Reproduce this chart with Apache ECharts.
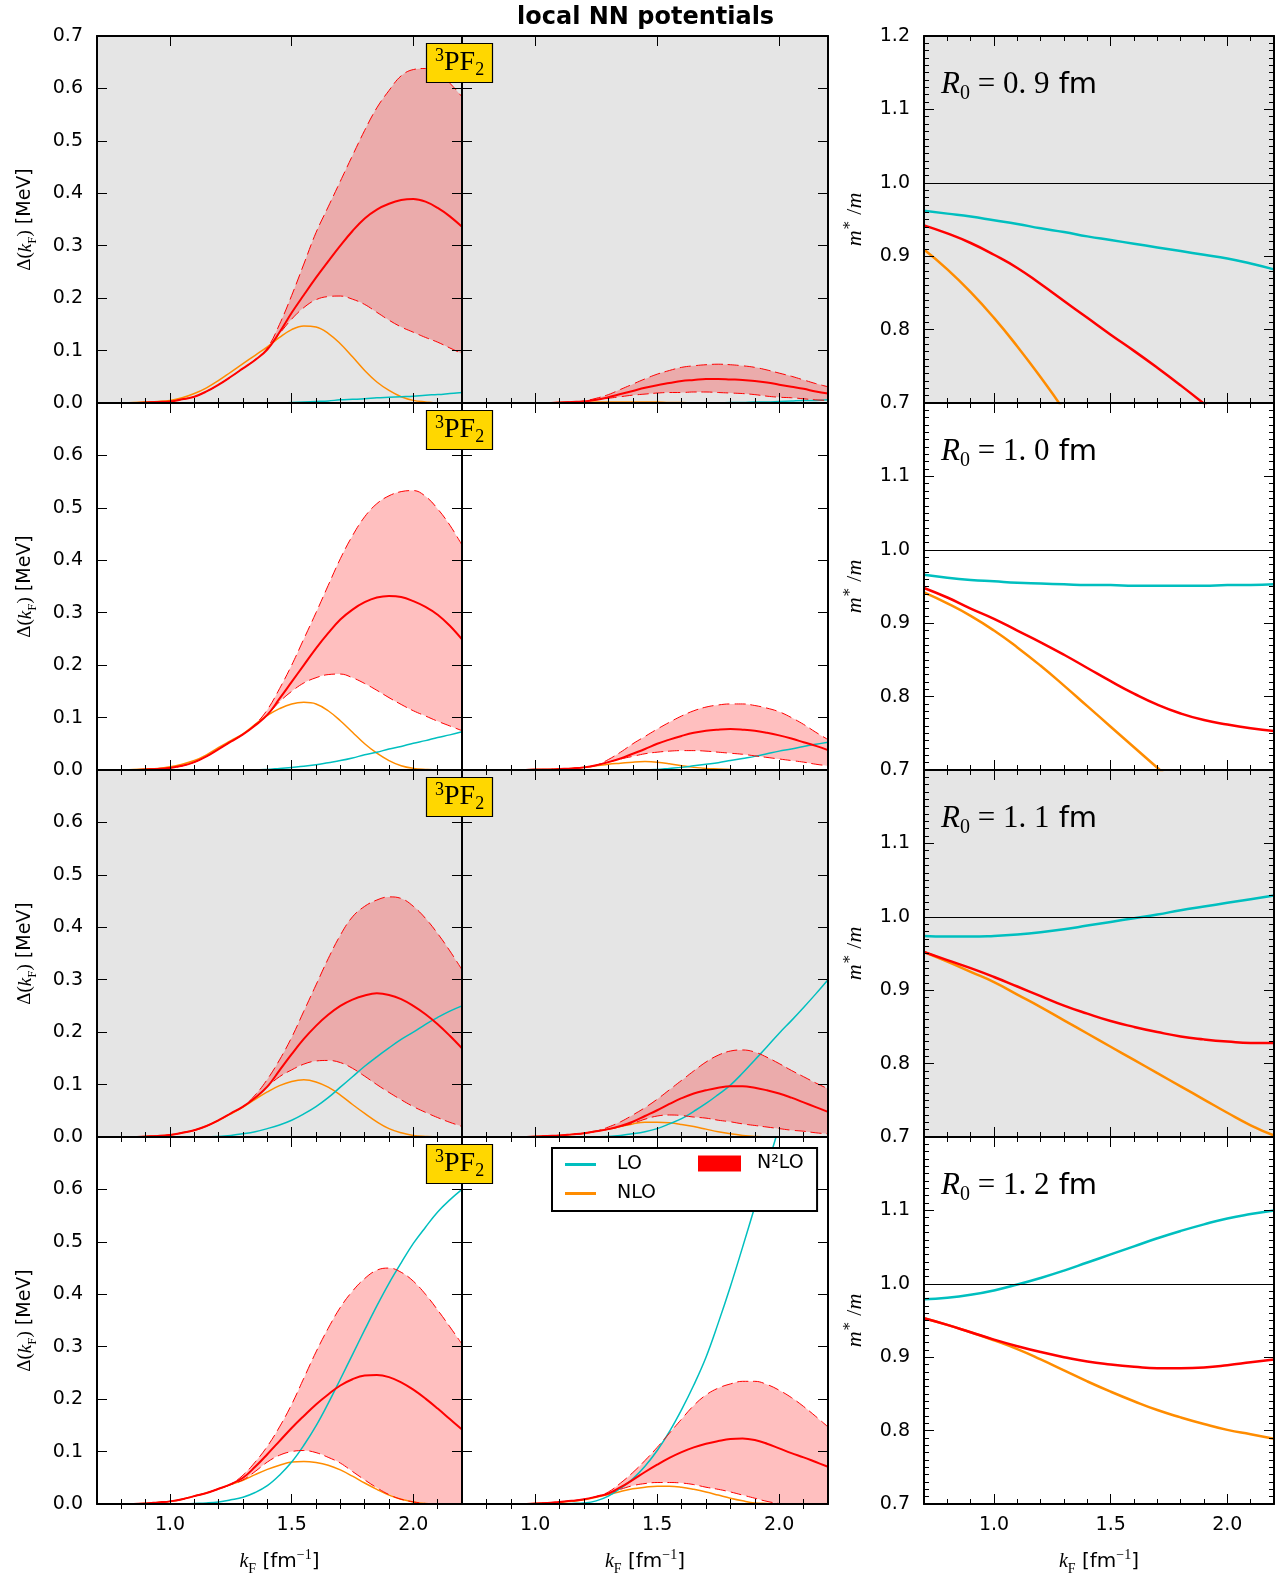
<!DOCTYPE html>
<html><head><meta charset="utf-8">
<script src="https://cdn.jsdelivr.net/npm/echarts@6/dist/echarts.min.js"></script>
<style>html,body{margin:0;padding:0;background:#fff}#c{width:1283px;height:1578px}</style>
</head><body><div id="c"></div>
<script>
// ---------------- data ----------------
const kFgap  = [0.7,0.75,0.8,0.85,0.9,0.95,1.0,1.05,1.1,1.15,1.2,1.25,1.3,1.35,1.4,1.45,1.5,1.55,1.6,1.65,1.7,1.75,1.8,1.85,1.9,1.95,2.0,2.05,2.1,2.15,2.2];
const kFmass = [0.7,0.8,0.9,1.0,1.1,1.2,1.3,1.4,1.5,1.6,1.7,1.8,1.9,2.0,2.1,2.2];
const xTickMajor = [1.0,1.5,2.0];
const xTickMinor = [0.8,0.9,1.1,1.2,1.3,1.4,1.6,1.7,1.8,1.9,2.1];
const radiusLabels = ['0.9','1.0','1.1','1.2'];
const unityLine = 1.0;

// pairing gap Δ(kF) [MeV] -- R0 = 0.9 fm, left panel
const g09L_LO   = [0,0,0,0,0,0,0,0,0,0,0,0,0,0,0,0,0.001,0.002,0.003,0.004,0.006,0.007,0.008,0.01,0.011,0.012,0.013,0.015,0.016,0.018,0.02];
const g09L_NLO  = [0,0,0,0.001,0.002,0.003,0.005,0.01,0.018,0.029,0.043,0.059,0.075,0.091,0.107,0.125,0.14,0.147,0.145,0.133,0.113,0.088,0.062,0.04,0.024,0.012,0.005,0.002,0,0,0];
const g09L_N2LO = [0,0,0,0,0.001,0.002,0.003,0.007,0.012,0.022,0.035,0.05,0.066,0.082,0.102,0.135,0.172,0.206,0.239,0.27,0.3,0.328,0.352,0.369,0.38,0.387,0.389,0.384,0.372,0.356,0.336];
const g09L_lo   = [0,0,0,0,0.001,0.002,0.003,0.007,0.012,0.022,0.035,0.05,0.066,0.082,0.102,0.132,0.16,0.182,0.197,0.203,0.204,0.198,0.188,0.173,0.158,0.145,0.135,0.125,0.116,0.105,0.094];
const g09L_hi   = [0,0,0,0,0.001,0.002,0.003,0.007,0.012,0.022,0.035,0.05,0.066,0.083,0.105,0.15,0.205,0.265,0.325,0.374,0.423,0.472,0.52,0.563,0.596,0.624,0.636,0.638,0.63,0.61,0.584];
// R0 = 0.9 fm, middle panel
const g09M_LO   = [0,0,0,0,0,0,0,0,0,0,0,0,0,0,0,0,0,0,0,0,0,0,0.001,0.001,0.002,0.002,0.003,0.004,0.005,0.005,0.006];
const g09M_NLO  = [0,0,0,0,0,0,0,0,0.001,0.001,0.001,0.002,0.002,0.002,0.002,0.002,0.002,0.001,0.001,0,0,0,0,0,0,0,0,0,0,0,0];
const g09M_N2LO = [0,0,0,0,0,0,0,0,0.001,0.002,0.003,0.006,0.011,0.017,0.023,0.029,0.034,0.038,0.042,0.044,0.046,0.046,0.045,0.044,0.042,0.039,0.035,0.031,0.027,0.022,0.018];
const g09M_lo   = [0,0,0,0,0,0,0,0,0.001,0.002,0.003,0.006,0.009,0.012,0.015,0.017,0.019,0.02,0.02,0.021,0.021,0.02,0.019,0.018,0.016,0.013,0.011,0.01,0.008,0.006,0.005];
const g09M_hi   = [0,0,0,0,0,0,0,0,0.001,0.002,0.004,0.009,0.016,0.026,0.036,0.046,0.055,0.062,0.068,0.071,0.073,0.074,0.073,0.071,0.068,0.063,0.057,0.051,0.044,0.037,0.031];
// R0 = 1.0 fm
const g10L_LO   = [0,0,0,0,0,0,0,0,0,0,0,0,0,0,0.001,0.003,0.005,0.007,0.01,0.014,0.018,0.023,0.029,0.034,0.04,0.045,0.051,0.056,0.062,0.067,0.073];
const g10L_NLO  = [0,0,0,0.001,0.002,0.003,0.006,0.011,0.018,0.029,0.043,0.056,0.069,0.087,0.104,0.117,0.126,0.129,0.126,0.113,0.094,0.072,0.05,0.032,0.018,0.008,0.003,0.001,0,0,0];
const g10L_N2LO = [0,0,0,0,0.001,0.002,0.004,0.008,0.015,0.026,0.04,0.054,0.068,0.085,0.105,0.136,0.168,0.2,0.232,0.261,0.287,0.306,0.32,0.329,0.332,0.33,0.322,0.311,0.296,0.275,0.249];
const g10L_lo   = [0,0,0,0,0.001,0.002,0.004,0.008,0.015,0.026,0.04,0.054,0.068,0.085,0.105,0.13,0.15,0.166,0.176,0.182,0.183,0.176,0.165,0.152,0.138,0.125,0.113,0.103,0.093,0.084,0.075];
const g10L_hi   = [0,0,0,0,0.001,0.002,0.004,0.008,0.015,0.026,0.04,0.054,0.068,0.087,0.115,0.155,0.2,0.25,0.3,0.352,0.403,0.447,0.483,0.508,0.523,0.531,0.533,0.522,0.498,0.467,0.429];
const g10M_LO   = [0,0,0,0,0,0,0,0,0,0,0,0,0,0,0,0,0.001,0.003,0.005,0.008,0.011,0.014,0.018,0.022,0.026,0.031,0.036,0.04,0.045,0.049,0.053];
const g10M_NLO  = [0,0,0,0,0,0,0.001,0.001,0.002,0.003,0.005,0.008,0.011,0.013,0.015,0.016,0.015,0.012,0.008,0.005,0.003,0.002,0.001,0,0,0,0,0,0,0,0];
const g10M_N2LO = [0,0,0,0,0,0,0.001,0.001,0.002,0.003,0.005,0.009,0.015,0.022,0.031,0.04,0.05,0.058,0.065,0.071,0.075,0.077,0.078,0.077,0.075,0.071,0.066,0.06,0.053,0.046,0.038];
const g10M_lo   = [0,0,0,0,0,0,0.001,0.001,0.002,0.003,0.005,0.009,0.015,0.021,0.026,0.031,0.034,0.036,0.037,0.037,0.036,0.034,0.032,0.03,0.027,0.024,0.021,0.018,0.015,0.011,0.008];
const g10M_hi   = [0,0,0,0,0,0,0.001,0.001,0.002,0.003,0.005,0.009,0.02,0.034,0.05,0.064,0.078,0.091,0.103,0.113,0.12,0.124,0.126,0.126,0.123,0.118,0.111,0.1,0.087,0.072,0.058];
// R0 = 1.1 fm
const g11L_LO   = [0,0,0,0,0,0,0,0,0,0,0.001,0.003,0.006,0.01,0.016,0.023,0.032,0.044,0.058,0.075,0.095,0.115,0.135,0.153,0.17,0.186,0.2,0.215,0.228,0.24,0.25];
const g11L_NLO  = [0,0,0,0,0.001,0.002,0.004,0.008,0.013,0.021,0.032,0.044,0.057,0.072,0.086,0.098,0.106,0.109,0.105,0.095,0.08,0.062,0.045,0.029,0.016,0.008,0.003,0.001,0,0,0];
const g11L_N2LO = [0,0,0,0,0.001,0.002,0.004,0.008,0.013,0.021,0.032,0.045,0.058,0.075,0.096,0.127,0.158,0.187,0.212,0.233,0.25,0.262,0.27,0.274,0.271,0.263,0.25,0.234,0.215,0.193,0.169];
const g11L_lo   = [0,0,0,0,0.001,0.002,0.004,0.008,0.013,0.021,0.032,0.045,0.058,0.075,0.096,0.115,0.128,0.139,0.145,0.146,0.142,0.131,0.116,0.1,0.085,0.071,0.058,0.047,0.037,0.028,0.02];
const g11L_hi   = [0,0,0,0,0.001,0.002,0.004,0.008,0.013,0.021,0.032,0.045,0.058,0.08,0.11,0.147,0.19,0.24,0.29,0.34,0.385,0.42,0.44,0.452,0.458,0.455,0.44,0.417,0.388,0.355,0.319];
const g11M_LO   = [0,0,0,0,0,0,0,0,0,0,0,0,0.001,0.003,0.006,0.01,0.016,0.025,0.035,0.049,0.064,0.081,0.099,0.122,0.147,0.172,0.198,0.222,0.247,0.273,0.3];
const g11M_NLO  = [0,0,0,0,0,0,0.001,0.002,0.003,0.005,0.007,0.011,0.015,0.02,0.025,0.028,0.028,0.027,0.024,0.02,0.015,0.01,0.006,0.003,0.001,0,0,0,0,0,0];
const g11M_N2LO = [0,0,0,0,0,0,0.001,0.002,0.003,0.005,0.007,0.011,0.015,0.021,0.029,0.04,0.051,0.063,0.074,0.083,0.089,0.094,0.097,0.097,0.094,0.089,0.083,0.075,0.066,0.057,0.048];
const g11M_lo   = [0,0,0,0,0,0,0.001,0.002,0.003,0.005,0.007,0.011,0.015,0.02,0.026,0.034,0.04,0.042,0.041,0.038,0.036,0.032,0.029,0.025,0.022,0.019,0.016,0.013,0.011,0.008,0.006];
const g11M_hi   = [0,0,0,0,0,0,0.001,0.002,0.003,0.005,0.007,0.011,0.019,0.029,0.042,0.056,0.072,0.09,0.108,0.126,0.143,0.156,0.164,0.166,0.162,0.152,0.14,0.127,0.115,0.103,0.092];
// R0 = 1.2 fm
const g12L_LO   = [0,0,0,0,0,0,0,0,0.001,0.002,0.004,0.008,0.013,0.022,0.035,0.055,0.08,0.112,0.149,0.192,0.238,0.285,0.332,0.378,0.421,0.46,0.497,0.528,0.557,0.58,0.6];
const g12L_NLO  = [0,0,0,0,0.001,0.003,0.005,0.009,0.015,0.021,0.029,0.037,0.045,0.056,0.066,0.074,0.08,0.081,0.079,0.074,0.065,0.053,0.04,0.028,0.017,0.009,0.004,0.001,0,0,0];
const g12L_N2LO = [0,0,0,0,0.001,0.003,0.005,0.009,0.015,0.021,0.029,0.038,0.05,0.071,0.095,0.12,0.145,0.168,0.19,0.209,0.226,0.238,0.245,0.246,0.242,0.232,0.218,0.201,0.182,0.162,0.142];
const g12L_lo   = [0,0,0,0,0.001,0.003,0.005,0.009,0.015,0.021,0.029,0.037,0.046,0.062,0.08,0.093,0.1,0.102,0.098,0.089,0.078,0.062,0.046,0.031,0.018,0.009,0.004,0.001,0,0,0];
const g12L_hi   = [0,0,0,0,0.001,0.003,0.005,0.009,0.015,0.021,0.029,0.038,0.055,0.08,0.11,0.147,0.19,0.24,0.29,0.335,0.375,0.406,0.43,0.446,0.45,0.442,0.425,0.4,0.37,0.338,0.305];
const g12M_LO   = [0,0,0,0,0,0,0,0,0,0.001,0.002,0.006,0.015,0.03,0.048,0.072,0.102,0.138,0.18,0.227,0.28,0.345,0.415,0.49,0.567,0.643,0.72,0.797,0.874,0.95,1.03];
const g12M_NLO  = [0,0,0,0,0,0,0.001,0.002,0.003,0.005,0.008,0.013,0.018,0.024,0.029,0.032,0.034,0.034,0.032,0.028,0.023,0.017,0.011,0.006,0.002,0.001,0,0,0,0,0];
const g12M_N2LO = [0,0,0,0,0,0,0.001,0.002,0.004,0.006,0.009,0.014,0.02,0.032,0.046,0.061,0.075,0.088,0.099,0.108,0.115,0.12,0.124,0.125,0.122,0.115,0.106,0.097,0.089,0.08,0.071];
const g12M_lo   = [0,0,0,0,0,0,0.001,0.002,0.004,0.006,0.009,0.014,0.02,0.028,0.035,0.039,0.041,0.041,0.04,0.037,0.032,0.028,0.023,0.017,0.011,0.005,0.001,0,0,0,0];
const g12M_hi   = [0,0,0,0,0,0,0.001,0.002,0.004,0.006,0.009,0.014,0.023,0.04,0.06,0.083,0.108,0.135,0.162,0.188,0.208,0.221,0.229,0.234,0.234,0.228,0.217,0.203,0.186,0.167,0.147];

// effective mass m*/m
const m09_LO   = [0.962,0.958,0.954,0.949,0.944,0.938,0.933,0.927,0.922,0.917,0.912,0.907,0.902,0.897,0.89,0.882];
const m09_NLO  = [0.909,0.882,0.851,0.816,0.777,0.735,0.69,0.64,null,null,null,null,null,null,null,null];
const m09_N2LO = [0.942,0.931,0.918,0.902,0.884,0.862,0.839,0.816,0.793,0.771,0.748,0.724,0.699,0.673,null,null];
const m10_LO   = [0.966,0.962,0.959,0.957,0.955,0.954,0.953,0.952,0.952,0.951,0.951,0.951,0.951,0.952,0.952,0.953];
const m10_NLO  = [0.942,0.927,0.91,0.89,0.867,0.842,0.815,0.787,0.759,0.731,0.703,0.675,null,null,null,null];
const m10_N2LO = [0.948,0.935,0.92,0.906,0.89,0.874,0.857,0.839,0.821,0.804,0.789,0.777,0.768,0.762,0.757,0.753];
const m11_LO   = [0.974,0.973,0.973,0.974,0.976,0.979,0.983,0.988,0.993,0.998,1.003,1.009,1.014,1.019,1.024,1.029];
const m11_NLO  = [0.952,0.939,0.925,0.911,0.894,0.877,0.859,0.841,0.823,0.805,0.787,0.769,0.751,0.733,0.716,0.702];
const m11_N2LO = [0.952,0.941,0.93,0.918,0.905,0.892,0.879,0.868,0.858,0.85,0.843,0.837,0.833,0.83,0.828,0.828];
const m12_LO   = [0.979,0.981,0.985,0.991,0.999,1.008,1.018,1.029,1.04,1.051,1.062,1.072,1.081,1.089,1.095,1.1];
const m12_NLO  = [0.953,0.944,0.934,0.923,0.911,0.897,0.882,0.867,0.853,0.84,0.828,0.818,0.809,0.801,0.795,0.789];
const m12_N2LO = [0.953,0.944,0.934,0.924,0.915,0.907,0.9,0.894,0.89,0.887,0.885,0.885,0.886,0.889,0.893,0.897];

const gapRows = [
  [{LO:g09L_LO,NLO:g09L_NLO,N2LO:g09L_N2LO,lo:g09L_lo,hi:g09L_hi},{LO:g09M_LO,NLO:g09M_NLO,N2LO:g09M_N2LO,lo:g09M_lo,hi:g09M_hi}],
  [{LO:g10L_LO,NLO:g10L_NLO,N2LO:g10L_N2LO,lo:g10L_lo,hi:g10L_hi},{LO:g10M_LO,NLO:g10M_NLO,N2LO:g10M_N2LO,lo:g10M_lo,hi:g10M_hi}],
  [{LO:g11L_LO,NLO:g11L_NLO,N2LO:g11L_N2LO,lo:g11L_lo,hi:g11L_hi},{LO:g11M_LO,NLO:g11M_NLO,N2LO:g11M_N2LO,lo:g11M_lo,hi:g11M_hi}],
  [{LO:g12L_LO,NLO:g12L_NLO,N2LO:g12L_N2LO,lo:g12L_lo,hi:g12L_hi},{LO:g12M_LO,NLO:g12M_NLO,N2LO:g12M_N2LO,lo:g12M_lo,hi:g12M_hi}]
];
const massRows = [
  {LO:m09_LO,NLO:m09_NLO,N2LO:m09_N2LO},
  {LO:m10_LO,NLO:m10_NLO,N2LO:m10_N2LO},
  {LO:m11_LO,NLO:m11_NLO,N2LO:m11_N2LO},
  {LO:m12_LO,NLO:m12_NLO,N2LO:m12_N2LO}
];

// ---------------- layout / style ----------------
const C_LO = '#00BFBF', C_NLO = '#FF8C00', C_N2 = '#FF0000';
const sans = "'DejaVu Sans', sans-serif";
const serif = "'Liberation Serif', 'DejaVu Serif', serif";
const colL = [97, 462, 924], colW = [365, 366, 350];
const rowT = [36, 403, 770, 1137], rowH = 367;
const bgGray = '#e5e5e5', bgWhite = '#ffffff';

function mathRich(size) {
  const lh = size + 8;
  const b = {color: '#000', fontWeight: 'normal'};
  return {
    s:   Object.assign({fontFamily: serif, fontSize: size, lineHeight: lh}, b),
    i:   Object.assign({fontFamily: serif, fontStyle: 'italic', fontSize: size, lineHeight: lh}, b),
    sub: Object.assign({fontFamily: serif, fontSize: Math.round(size*0.7), lineHeight: Math.round(size*0.55), verticalAlign: 'bottom'}, b),
    sup: Object.assign({fontFamily: serif, fontSize: Math.round(size*0.7), lineHeight: Math.round(size*0.55), verticalAlign: 'top'}, b),
    t:   Object.assign({fontFamily: sans, fontSize: size, lineHeight: lh}, b)
  };
}
const ptsG = arr => kFgap.map((x, i) => [x, arr[i]]);
const ptsM = arr => kFmass.map((x, i) => [x, arr[i]]);
const black = {color: '#000', width: 1};

const grids = [], xAxes = [], yAxes = [], series = [], titles = [];
titles.push({text: 'local NN potentials', left: 512, top: 1,
  textStyle: {fontFamily: sans, fontWeight: 'bold', fontSize: 24, color: '#000'}});

for (let r = 0; r < 4; r++) {
  const bg = (r % 2 === 0) ? bgGray : bgWhite;
  for (let c = 0; c < 3; c++) {
    const gi = grids.length;
    const isGap = c < 2, isBottom = r === 3;
    grids.push({left: colL[c], top: rowT[r], width: colW[c], height: rowH, show: true,
      backgroundColor: bg, borderWidth: 0});
    const xb = {type: 'value', gridIndex: gi, min: 0.7, max: 2.2, splitLine: {show: false}, z: 5};
    const xi = xAxes.length;
    xAxes.push(Object.assign({}, xb, {position: 'bottom',
      axisLine: {show: true, onZero: false, lineStyle: {color: '#000', width: 2}},
      axisTick: {show: true, inside: true, length: 10, customValues: xTickMajor, lineStyle: black},
      axisLabel: {show: isBottom, customValues: xTickMajor, formatter: v => v.toFixed(1),
        color: '#000', fontSize: 19, fontFamily: sans, margin: 12},
      name: isBottom ? '{i|k}{sub|F}{t| [fm}{sup|−1}{t|]}' : '',
      nameLocation: 'middle', nameGap: 44, nameTextStyle: {rich: mathRich(20)}}));
    xAxes.push(Object.assign({}, xb, {position: 'bottom', axisLine: {show: false},
      axisTick: {show: true, inside: true, length: 5, customValues: xTickMinor, lineStyle: black},
      axisLabel: {show: false}}));
    xAxes.push(Object.assign({}, xb, {position: 'top',
      axisLine: {show: true, onZero: false, lineStyle: {color: '#000', width: 2}},
      axisTick: {show: true, inside: true, length: 10, customValues: xTickMajor, lineStyle: black},
      axisLabel: {show: false}}));
    xAxes.push(Object.assign({}, xb, {position: 'top', axisLine: {show: false},
      axisTick: {show: true, inside: true, length: 5, customValues: xTickMinor, lineStyle: black},
      axisLabel: {show: false}}));

    const yb = {type: 'value', gridIndex: gi, min: isGap ? 0 : 0.7, max: isGap ? 0.7 : 1.2, interval: 0.1,
      splitLine: {show: false}, z: 5,
      axisLine: {show: true, onZero: false, lineStyle: {color: '#000', width: 2}},
      axisTick: {show: true, inside: true, length: 10, lineStyle: black},
      minorTick: isGap ? {show: false} : {show: true, splitNumber: 10, length: 5, lineStyle: black}};
    const yi = yAxes.length;
    let yName = '';
    if (c === 0) yName = '{s|Δ(}{i|k}{sub|F}{s|)}{t| [MeV]}';
    if (c === 2) yName = '{i|m}{sup|∗}{s| /}{i|m}';
    yAxes.push(Object.assign({}, yb, {position: 'left',
      axisLabel: {show: c !== 1, formatter: v => v.toFixed(1), showMaxLabel: r === 0, showMinLabel: true,
        color: '#000', fontSize: 19, fontFamily: sans, margin: 14},
      name: yName, nameLocation: 'middle', nameRotate: 90, nameGap: c === 0 ? 58 : 54,
      nameTextStyle: {rich: mathRich(c === 0 ? 19 : 22)}}));
    yAxes.push(Object.assign({}, yb, {position: 'right', axisLabel: {show: false}}));

    const base = {type: 'line', xAxisIndex: xi, yAxisIndex: yi, symbol: 'none', showSymbol: false,
      animation: false, silent: true};
    if (isGap) {
      const d = gapRows[r][c];
      const sm = 0.4;
      // shaded N2LO band: fill under upper bound, then cover below lower bound with panel colour
      series.push(Object.assign({}, base, {name: 'N²LO', data: ptsG(d.hi), smooth: sm,
        itemStyle: {color: C_N2}, lineStyle: {opacity: 0},
        areaStyle: {color: C_N2, opacity: 0.25, origin: 'start'}, z: 1}));
      series.push(Object.assign({}, base, {name: 'band-cover', data: ptsG(d.lo), smooth: sm,
        lineStyle: {opacity: 0}, areaStyle: {color: bg, opacity: 1, origin: 'start'}, z: 1.5}));
      series.push(Object.assign({}, base, {name: 'NLO', data: ptsG(d.NLO), smooth: sm, itemStyle: {color: C_NLO},
        lineStyle: {color: C_NLO, width: 1.5}, z: 2}));
      series.push(Object.assign({}, base, {name: 'LO', data: ptsG(d.LO), smooth: sm, itemStyle: {color: C_LO},
        lineStyle: {color: C_LO, width: 1.5}, z: 2}));
      series.push(Object.assign({}, base, {name: 'N²LO-lo', data: ptsG(d.lo), smooth: sm,
        lineStyle: {color: C_N2, width: 1, type: [11, 5]}, z: 2}));
      series.push(Object.assign({}, base, {name: 'N²LO-hi', data: ptsG(d.hi), smooth: sm,
        lineStyle: {color: C_N2, width: 1, type: [11, 5]}, z: 2}));
      series.push(Object.assign({}, base, {name: 'N²LO-central', data: ptsG(d.N2LO), smooth: sm,
        lineStyle: {color: C_N2, width: 2}, z: 2}));
    } else {
      const d = massRows[r];
      const sm = 0.5;
      series.push(Object.assign({}, base, {name: 'LO', data: ptsM(d.LO), smooth: sm, itemStyle: {color: C_LO},
        lineStyle: {color: C_LO, width: 2.5}, z: 2,
        markLine: {silent: true, symbol: 'none', label: {show: false}, animation: false,
          lineStyle: {color: '#000', width: 1.2, type: 'solid'}, data: [{yAxis: unityLine}]}}));
      series.push(Object.assign({}, base, {name: 'NLO', data: ptsM(d.NLO), smooth: sm, itemStyle: {color: C_NLO},
        lineStyle: {color: C_NLO, width: 2.5}, z: 2}));
      series.push(Object.assign({}, base, {name: 'N²LO-m', data: ptsM(d.N2LO), smooth: sm,
        lineStyle: {color: C_N2, width: 2.5}, z: 2}));
    }
  }
  // 3PF2 tag
  titles.push({text: '{sup|3}{m|PF}{sub|2}', left: 426, top: rowT[r] + 7,
    backgroundColor: '#FFD700', borderColor: '#000', borderWidth: 1.2, padding: [4, 9, 4, 9], z: 8,
    textStyle: {fontWeight: 'normal', rich: {
      m:   {fontFamily: serif, fontSize: 28, lineHeight: 32, color: '#000', fontWeight: 'normal'},
      sup: {fontFamily: serif, fontSize: 18, lineHeight: 16, verticalAlign: 'top', color: '#000', fontWeight: 'normal'},
      sub: {fontFamily: serif, fontSize: 18, lineHeight: 14, verticalAlign: 'bottom', color: '#000', fontWeight: 'normal'}}}});
  // R0 label
  titles.push({text: '{i|R}{sub|0}{s| = ' + radiusLabels[r].replace('.', '. ') + '}{t| fm}', left: 936, top: rowT[r] + 25, z: 8,
    textStyle: {fontWeight: 'normal', rich: {
      i:   {fontFamily: serif, fontStyle: 'italic', fontSize: 31, lineHeight: 38, color: '#000', fontWeight: 'normal'},
      s:   {fontFamily: serif, fontSize: 31, lineHeight: 38, color: '#000', fontWeight: 'normal'},
      sub: {fontFamily: serif, fontSize: 20, lineHeight: 16, verticalAlign: 'bottom', color: '#000', fontWeight: 'normal'},
      t:   {fontFamily: sans, fontSize: 29, lineHeight: 38, color: '#000', fontWeight: 'normal'}}}});
}

const legends = [
  {orient: 'vertical', left: 552, top: 1148, data: ['LO', 'NLO'], icon: 'rect',
   itemWidth: 31, itemHeight: 3, itemGap: 10, padding: [7, 161, 8, 13],
   borderColor: '#000', borderWidth: 2, backgroundColor: '#fff', selectedMode: false, z: 10,
   textStyle: {fontFamily: sans, fontSize: 19, color: '#000', padding: [0, 0, 0, 16]}},
  {orient: 'vertical', left: 698, top: 1154, data: ['N²LO'], icon: 'rect',
   itemWidth: 43, itemHeight: 16, padding: 0, selectedMode: false, z: 11,
   textStyle: {fontFamily: sans, fontSize: 19, color: '#000', padding: [0, 0, 0, 11]}}
];

const chart = echarts.init(document.getElementById('c'), null, {renderer: 'canvas'});
chart.setOption({
  animation: false,
  backgroundColor: '#ffffff',
  title: titles,
  legend: legends,
  grid: grids,
  xAxis: xAxes,
  yAxis: yAxes,
  series: series
});
</script>
</body></html>
